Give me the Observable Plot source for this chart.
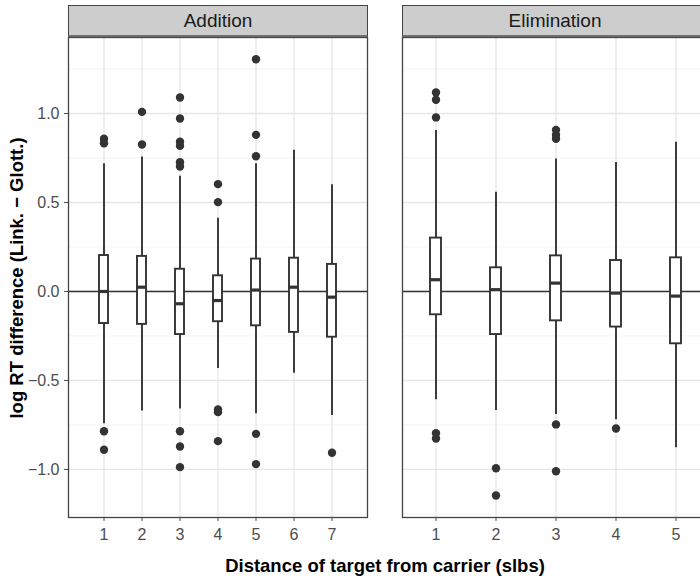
<!DOCTYPE html>
<html><head><meta charset="utf-8">
<script src="https://cdn.jsdelivr.net/npm/d3@7"></script>
<script src="https://cdn.jsdelivr.net/npm/@observablehq/plot@0.6"></script>
<style>
html,body{margin:0;padding:0;background:#fff;}
body{width:700px;height:580px;overflow:hidden;position:relative;font-family:"Liberation Sans",Arial,sans-serif;}
.abs{position:absolute;}
.abs svg{max-width:none !important;display:block;}
.abs svg text{font-size:16px !important;font-family:"Liberation Sans",Arial,sans-serif !important;fill:#4d4d4d;}
.strip{position:absolute;top:5px;height:32px;box-sizing:border-box;background:#cdcdcd;border:1.3px solid #444;border-bottom:2px solid #707070;color:#1a1a1a;font-size:19px;display:flex;align-items:center;justify-content:center;}
.ytitle{position:absolute;left:17px;top:278px;transform:translate(-50%,-50%) rotate(-90deg);white-space:nowrap;font-weight:bold;font-size:18.5px;color:#000;}
.xtitle{position:absolute;left:385px;top:557px;transform:translateX(-50%);white-space:nowrap;font-weight:bold;font-size:18.5px;line-height:1;color:#000;}
</style></head><body>
<div id="left" class="abs" style="left:0;top:0;width:369px"></div>
<div id="right" class="abs" style="left:398px;top:0;width:314px"></div>
<div id="stripL" class="strip" style="left:68px;width:300px"></div>
<div id="stripR" class="strip" style="left:402px;width:306px"></div>
<div id="ytitle" class="ytitle"></div>
<div id="xtitle" class="xtitle"></div>
<script>
// ---- data ----
const facets = ["Addition", "Elimination"];
const yTitle = "log RT difference (Link. \u2212 Glott.)";
const xTitle = "Distance of target from carrier (slbs)";
const yTicks = [-1, -0.5, 0, 0.5, 1];
const yTickLabels = ["\u22121.0", "\u22120.5", "0.0", "0.5", "1.0"];
const yMinor = [-1.25, -0.75, -0.25, 0.25, 0.75, 1.25];

// Addition
const addDist = [1, 2, 3, 4, 5, 6, 7];
const addLower = [-0.743, -0.672, -0.661, -0.433, -0.687, -0.459, -0.697];
const addQ1 = [-0.180, -0.185, -0.242, -0.170, -0.193, -0.230, -0.257];
const addMedian = [0.000, 0.024, -0.069, -0.051, 0.008, 0.024, -0.032];
const addQ3 = [0.202, 0.197, 0.125, 0.088, 0.182, 0.187, 0.152];
const addUpper = [0.717, 0.755, 0.648, 0.412, 0.717, 0.794, 0.599];
const addOutDist = [1, 1, 1, 1, 2, 2, 3, 3, 3, 3, 3, 3, 3, 3, 3, 4, 4, 4, 4, 4, 5, 5, 5, 5, 5, 7];
const addOutValue = [0.858, 0.833, -0.785, -0.889, 1.009, 0.826, 1.09, 0.972, 0.841, 0.818, 0.726, 0.702, -0.785, -0.871, -0.987, 0.603, 0.502, -0.663, -0.678, -0.841, 1.305, 0.88, 0.76, -0.80, -0.970, -0.906];

// Elimination
const elimDist = [1, 2, 3, 4, 5];
const elimLower = [-0.609, -0.669, -0.691, -0.721, -0.878];
const elimQ1 = [-0.131, -0.242, -0.165, -0.200, -0.294];
const elimMedian = [0.066, 0.010, 0.047, -0.009, -0.026];
const elimQ3 = [0.300, 0.133, 0.200, 0.174, 0.189];
const elimUpper = [0.904, 0.558, 0.745, 0.725, 0.839];
const elimOutDist = [1, 1, 1, 1, 1, 2, 2, 3, 3, 3, 3, 3, 4];
const elimOutValue = [1.118, 1.077, 0.978, -0.796, -0.826, -0.993, -1.146, 0.908, 0.88, 0.858, -0.747, -1.01, -0.770];

const yDomain = [-1.27, 1.427];

function panel(dist, lower, q1, med, q3, upper, outDist, outVal, o) {
  const boxes = dist.map((d, i) => ({d, lower: lower[i], q1: q1[i], med: med[i], q3: q3[i], upper: upper[i]}));
  const outs = outDist.map((d, i) => ({d, v: outVal[i]}));
  const dark = "#333333";
  return Plot.plot({
    width: o.width,
    height: 560,
    marginTop: 37,
    marginBottom: 43,
    marginLeft: o.marginLeft,
    marginRight: o.marginRight,
    style: {fontFamily: "Liberation Sans, Arial, sans-serif", fontSize: "16px", color: "#4d4d4d", background: "transparent", overflow: "visible"},
    x: {type: "band", domain: dist, paddingInner: o.pin, paddingOuter: o.pout, label: null, tickSize: 4, tickPadding: 7},
    y: o.showY
      ? {domain: yDomain, ticks: yTicks, tickFormat: (d) => yTickLabels[yTicks.indexOf(d)], tickSize: 4, tickPadding: 5, label: null}
      : {domain: yDomain, axis: null},
    marks: [
      Plot.ruleY(yMinor, {stroke: "#f0f0f0", strokeWidth: 0.8}),
      Plot.ruleY(yTicks, {stroke: "#e6e6e6", strokeWidth: 1.3}),
      Plot.ruleX(dist, {x: (d) => d, stroke: "#e6e6e6", strokeWidth: 1.3}),
      Plot.ruleY([0], {stroke: dark, strokeWidth: 1.6}),
      Plot.ruleX(boxes, {x: "d", y1: "lower", y2: "upper", stroke: dark, strokeWidth: 1.9}),
      Plot.barY(boxes, {x: "d", y1: "q1", y2: "q3", fill: "white", stroke: dark, strokeWidth: 1.9}),
      Plot.tickY(boxes, {x: "d", y: "med", stroke: dark, strokeWidth: 3.2}),
      Plot.dot(outs, {x: "d", y: "v", r: 4.2, fill: dark, stroke: "none"}),
      Plot.frame({stroke: "#444444", strokeWidth: 1.3})
    ]
  });
}

document.getElementById("left").append(panel(addDist, addLower, addQ1, addMedian, addQ3, addUpper, addOutDist, addOutValue,
  {width: 369, marginLeft: 68, marginRight: 2, pin: 0.77, pout: 0.73, showY: true}));
document.getElementById("right").append(panel(elimDist, elimLower, elimQ1, elimMedian, elimQ3, elimUpper, elimOutDist, elimOutValue,
  {width: 314, marginLeft: 4, marginRight: 4, pin: 0.817, pout: 0.458, showY: false}));

document.getElementById("stripL").textContent = facets[0];
document.getElementById("stripR").textContent = facets[1];
document.getElementById("ytitle").textContent = yTitle;
document.getElementById("xtitle").textContent = xTitle;
</script>
</body></html>
